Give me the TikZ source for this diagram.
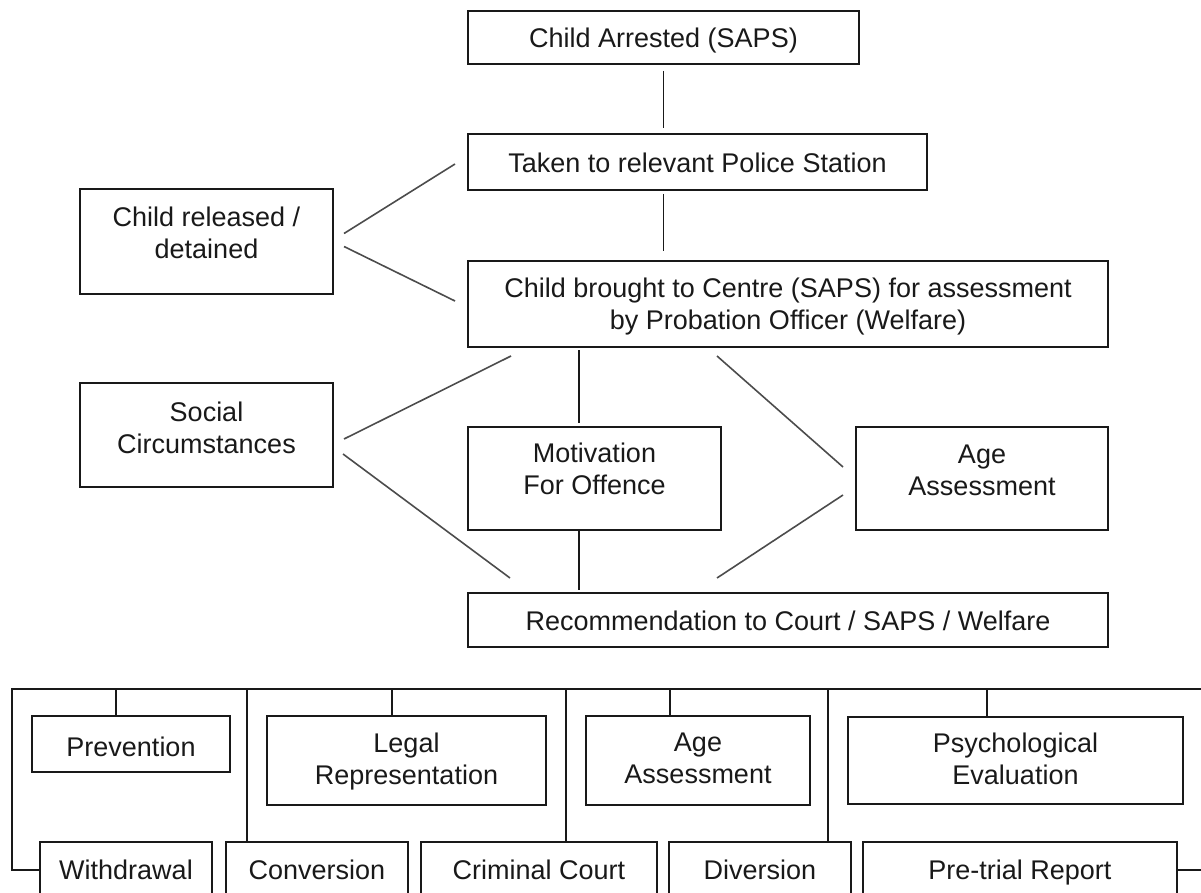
\documentclass[tikz,border=0pt]{standalone}
\usepackage{fontspec}
\setmainfont{Liberation Sans}
\usetikzlibrary{calc}
\tikzset{
  boxst/.style={draw=black!90, line width=1.8pt, inner sep=0pt, outer sep=0pt, rectangle},
  txt/.style={inner sep=0pt, outer sep=0pt, align=center, text=black!90, font=\fontsize{27}{32}\selectfont},
  conn/.style={draw=black!90, line width=1.8pt},
  diag/.style={draw=black!70, line width=1.6pt}
}
\newcommand\diabox[7]{%
  \node[boxst, anchor=north west, minimum width={(#4-#2)*1pt}, minimum height={(#5-#3)*1pt}] (#1) at (#2,#3) {};
  \node[txt, anchor=north] (#1-t) at ($(#1.north)+(0,#6)$) {#7};}
\begin{document}
\begin{tikzpicture}[x=1pt,y=-1pt]
\useasboundingbox (0,0) rectangle (1201,893);
\clip (0,0) rectangle (1201,893);
% upper flow
\diabox{arrested}{468}{11}{859}{64}{17}{Child Arrested (SAPS)}
\diabox{police}{468}{134}{927}{190}{19}{Taken to relevant Police Station}
\diabox{released}{80}{189}{333}{294}{18}{Child released /\\detained}
\diabox{centre}{468}{261}{1108}{347}{17}{Child brought to Centre (SAPS) for assessment\\by Probation Officer (Welfare)}
\diabox{social}{80}{383}{333}{487}{19}{Social\\Circumstances}
\diabox{motiv}{468}{427}{721}{530}{16}{Motivation\\For Offence}
\diabox{agea}{856}{427}{1108}{530}{18}{Age\\Assessment}
\diabox{recom}{468}{593}{1108}{647}{18}{Recommendation to Court / SAPS / Welfare}
% connectors upper
\draw[conn, shorten <=7pt, shorten >=6pt] (arrested.south) -- (arrested.south |- police.north);
\draw[conn, shorten <=4pt, shorten >=10pt] (arrested.south |- police.south) -- (arrested.south |- centre.north);
\draw[diag] ($(released.east)+(11,-8)$) -- ($(police.west)+(-13,2)$);
\draw[diag] ($(released.east)+(11,5)$) -- ($(centre.west)+(-13,-3)$);
\draw[diag] ($(centre.south west)+(43,9)$) -- ($(social.east)+(11,4)$);
\draw[diag] ($(social.east)+(10,19)$) -- ($(recom.north west)+(42,-15)$);
\draw[diag] ($(centre.south west)+(249,9)$) -- ($(agea.west)+(-13,-11.5)$);
\draw[diag] ($(agea.west)+(-13,16.5)$) -- ($(recom.north west)+(249,-15)$);
\draw[conn] ($(centre.south west)+(111,3)$) -- ($(motiv.north west)+(111,-4)$);
\draw[conn] ($(motiv.south west)+(111,0)$) -- ($(recom.north west)+(111,-3)$);
% lower section
\diabox{prevention}{32}{716}{230}{772}{21}{Prevention}
\diabox{legal}{267}{716}{546}{805}{17}{Legal\\Representation}
\diabox{ageb}{586}{716}{810}{805}{17}{Age\\Assessment}
\diabox{psych}{848}{717}{1183}{804}{16}{Psychological\\Evaluation}
\diabox{withdrawal}{40}{842}{212}{910}{18}{Withdrawal}
\diabox{conversion}{226}{842}{408}{910}{18}{Conversion}
\diabox{criminal}{421}{842}{657}{910}{18}{Criminal Court}
\diabox{diversion}{669}{842}{851}{910}{18}{Diversion}
\diabox{pretrial}{863}{842}{1177}{910}{18}{Pre-trial Report}
\coordinate (busL) at (12,689);
\coordinate (busR) at (1210,689);
\coordinate (busLB) at (12,870);
\coordinate (rightend) at (1210,870);
\draw[conn] (busR) -- (busL) -- (busLB) -- (busLB -| withdrawal.west);
\coordinate (cPrev) at ($(prevention.north west)+(84,0)$);
\coordinate (cLegal) at ($(legal.north west)+(125,0)$);
\coordinate (cAgeb) at ($(ageb.north west)+(84,0)$);
\coordinate (cPsych) at ($(psych.north west)+(139,0)$);
\coordinate (dConv) at ($(conversion.north west)+(21,0)$);
\coordinate (dCrim) at ($(criminal.north west)+(145,0)$);
\coordinate (dDiv) at ($(diversion.north west)+(159,0)$);
\foreach \c in {cPrev,cLegal,cAgeb,cPsych,dConv,dCrim,dDiv}{
  \draw[conn] (\c) -- (\c |- busL);
}
\draw[conn] (rightend -| pretrial.east) -- (rightend);
\end{tikzpicture}
\end{document}
